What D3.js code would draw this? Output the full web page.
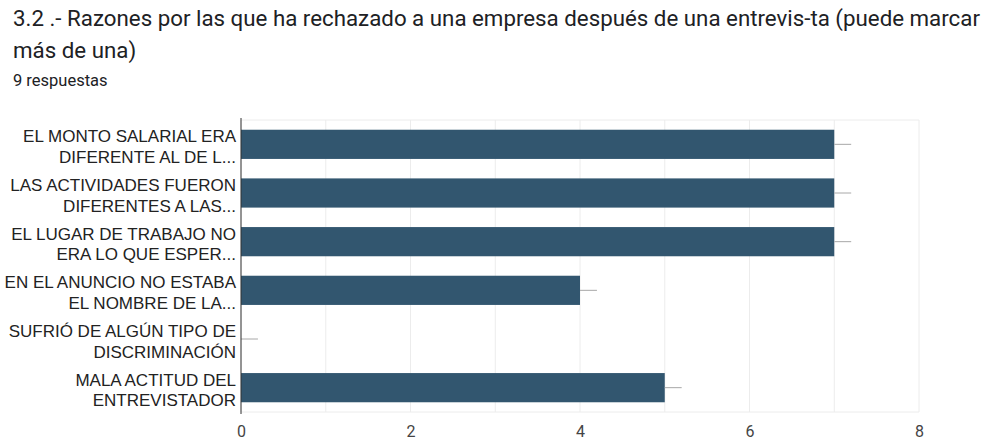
<!DOCTYPE html>
<html>
<head>
<meta charset="utf-8">
<script src="https://cdn.jsdelivr.net/npm/d3@7"></script>
<style>
  body { margin: 0; background: #fff; }
  svg { display: block; }
</style>
</head>
<body>
<div id="container"></div>
<script>
// chart data
const titleLines = [
  "3.2 .- Razones por las que ha rechazado a una empresa después de una entrevis-ta (puede marcar",
  "más de una)"
];
const subtitle = "9 respuestas";
const categories = [
  ["EL MONTO SALARIAL ERA", "DIFERENTE AL DE L..."],
  ["LAS ACTIVIDADES FUERON", "DIFERENTES A LAS..."],
  ["EL LUGAR DE TRABAJO NO", "ERA LO QUE ESPER..."],
  ["EN EL ANUNCIO NO ESTABA", "EL NOMBRE DE LA..."],
  ["SUFRIÓ DE ALGÚN TIPO DE", "DISCRIMINACIÓN"],
  ["MALA ACTITUD DEL", "ENTREVISTADOR"]
];
const values = [7, 7, 7, 4, 0, 5];
const tickValues = [0, 2, 4, 6, 8];
const gridValues = [0, 1, 2, 3, 4, 5, 6, 7, 8];

const width = 992, height = 441;
const margin = { left: 241, right: 73, top: 120, bottom: 29 };

const svg = d3.select("#container").
append("svg").
attr("width", width).
attr("height", height);

// title
svg.append("g").
selectAll("text").
data(titleLines).
enter().
append("text").
attr("x", 13).
attr("y", (d, i) => 26 + i * 32).
attr("font-family", "Roboto, sans-serif").
attr("font-size", 22.3).
attr("fill", "#202124").
text(d => d);

svg.append("text").
attr("x", 13).
attr("y", 86).
attr("font-family", "Roboto, sans-serif").
attr("font-size", 16.5).
attr("fill", "#202124").
text(subtitle);

const x = d3.scaleLinear().
domain([0, 8]).
range([margin.left, width - margin.right]);

const y = d3.scaleBand().
domain(d3.range(categories.length)).
range([margin.top, height - margin.bottom]).
paddingInner(0.4).
paddingOuter(0.2);

// grid
svg.append("g").
selectAll("line").
data(gridValues).
enter().
append("line").
attr("x1", d => x(d)).
attr("x2", d => x(d)).
attr("y1", margin.top).
attr("y2", height - margin.bottom).
attr("stroke", "#ececec").
attr("stroke-width", 1);

svg.append("line").
attr("x1", margin.left).
attr("x2", width - margin.right).
attr("y1", margin.top).
attr("y2", margin.top).
attr("stroke", "#ececec");

svg.append("line").
attr("x1", margin.left).
attr("x2", width - margin.right).
attr("y1", height - margin.bottom).
attr("y2", height - margin.bottom).
attr("stroke", "#ececec");

// bars
svg.append("g").
selectAll("rect").
data(values).
enter().
append("rect").
attr("x", x(0)).
attr("y", (d, i) => y(i)).
attr("width", d => x(d) - x(0)).
attr("height", y.bandwidth()).
attr("fill", "#32566f");

// whiskers
svg.append("g").
selectAll("line").
data(values).
enter().
append("line").
attr("x1", d => x(d)).
attr("x2", d => x(d + 0.2)).
attr("y1", (d, i) => y(i) + y.bandwidth() / 2).
attr("y2", (d, i) => y(i) + y.bandwidth() / 2).
attr("stroke", "#a8a8a8").
attr("stroke-width", 1);

// zero axis line
svg.append("line").
attr("x1", x(0)).
attr("x2", x(0)).
attr("y1", margin.top - 2).
attr("y2", height - margin.bottom + 2).
attr("stroke", "#333").
attr("stroke-width", 1);

// category labels
const labels = svg.append("g").
selectAll("text").
data(categories).
enter().
append("text").
attr("text-anchor", "end").
attr("font-family", "'Liberation Sans', Arial, sans-serif").
attr("font-size", 17).
attr("fill", "#222");

labels.selectAll("tspan").
data((d, i) => d.map(t => ({ t, i }))).
enter().
append("tspan").
attr("x", margin.left - 5).
attr("y", (d, j) => y(d.i) + y.bandwidth() / 2 + (j === 0 ? -2 : 18.5)).
text(d => d.t);

// x axis ticks
const xAxis = d3.axisBottom(x).
tickValues(tickValues).
tickSize(0).
tickPadding(12);

svg.append("g").
attr("transform", `translate(0,${height - margin.bottom})`).
call(xAxis).
call(g => g.select(".domain").remove()).
call(g => g.selectAll("text").
attr("dy", null).
attr("y", 25).
attr("font-family", "Roboto, sans-serif").
attr("font-size", 16).
attr("fill", "#444"));
</script>
</body>
</html>
